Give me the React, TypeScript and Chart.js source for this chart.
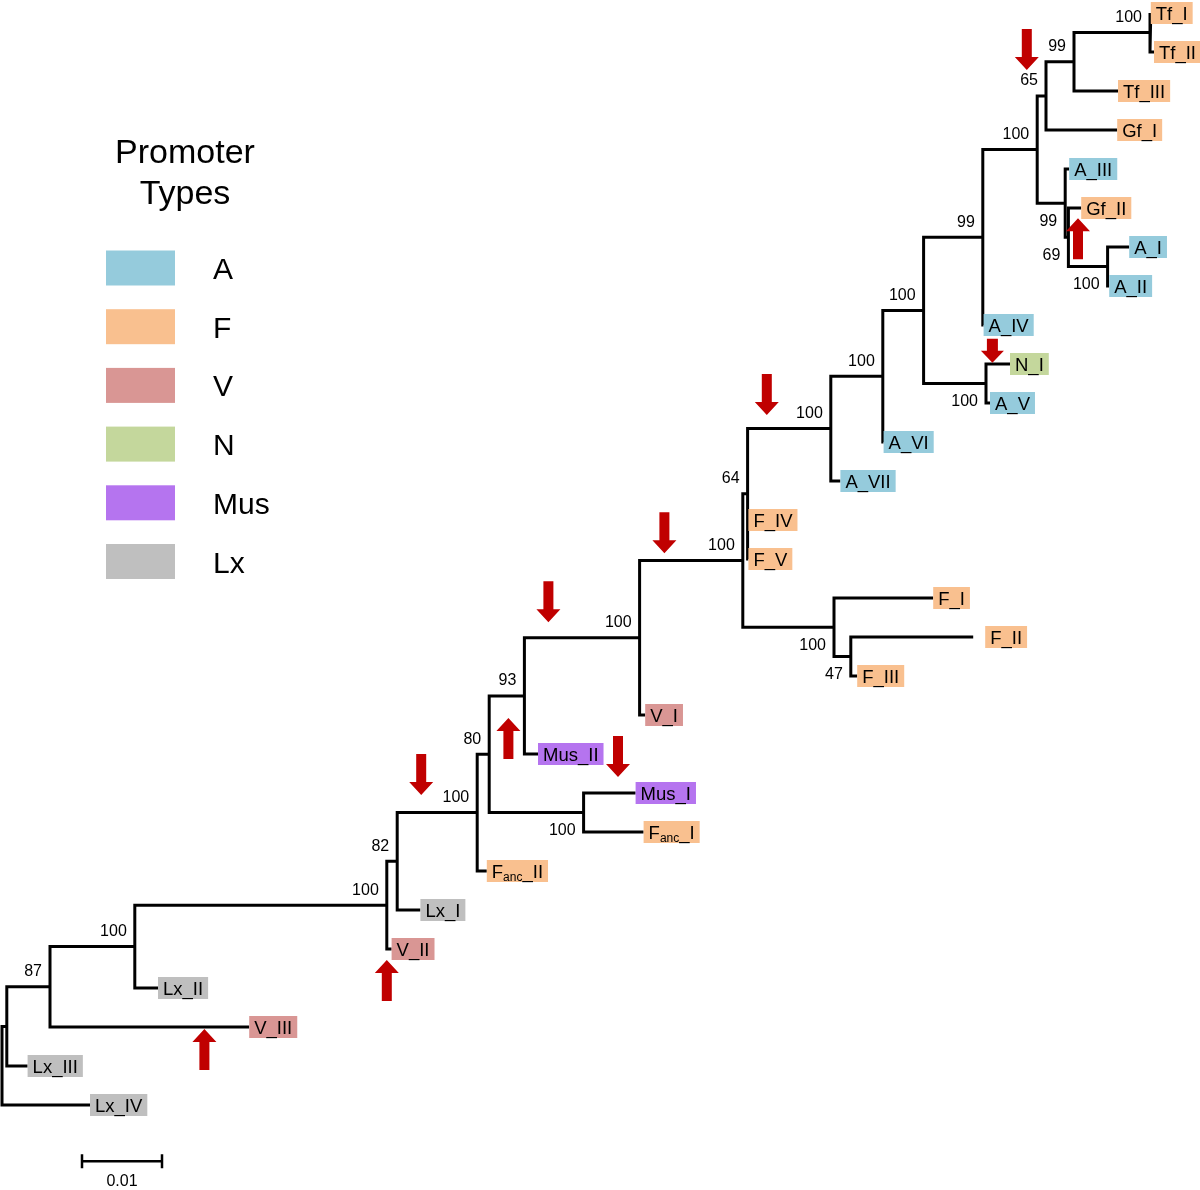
import React, { useEffect, useRef } from "react";
import { Chart, registerables } from "chart.js";

Chart.register(...registerables);

const FONT = '"Liberation Sans", Arial, Helvetica, sans-serif';

// ---- Tips (top to bottom) ----
const leafNames = [
  "Tf_I", "Tf_II", "Tf_III", "Gf_I", "A_III", "Gf_II", "A_I", "A_II", "A_IV", "N_I",
  "A_V", "A_VI", "A_VII", "F_IV", "F_V", "F_I", "F_II", "F_III", "V_I", "Mus_II",
  "Mus_I", "F{anc}_I", "F{anc}_II", "Lx_I", "V_II", "Lx_II", "V_III", "Lx_III", "Lx_IV",
];
const leafTypes = [
  "F", "F", "F", "F", "A", "F", "A", "A", "A", "N",
  "A", "A", "A", "F", "F", "F", "F", "F", "V", "Mus",
  "Mus", "F", "F", "Lx", "V", "Lx", "V", "Lx", "Lx",
];
const leafParents = [
  "n24", "n24", "n23", "n21", "n22", "n25", "n26", "n26", "n18", "n19",
  "n19", "n16", "n15", "n12", "n12", "n13", "n14", "n14", "n10", "n8",
  "n9", "n9", "n6", "n5", "n4", "n3", "n2", "n1", "root",
];
const leafLengths = [
  0.0001, 0.0005, 0.0055, 0.0089, 0.0005, 0.0016, 0.0027, 0.0002, 0.0001, 0.003,
  0.0005, 0.0001, 0.0012, 0.0001, 0.0001, 0.0124, 0.0153, 0.0008, 0.0007, 0.0017,
  0.0065, 0.0075, 0.0012, 0.0029, 0.0006, 0.0029, 0.0249, 0.0026, 0.011,
];

// ---- Internal nodes (parents listed before children) ----
const cladeNames = [
  "root", "n1", "n2", "n3", "n4", "n5", "n6", "n7", "n8", "n9",
  "n10", "n11", "n12", "n13", "n14", "n15", "n16", "n17", "n18", "n19",
  "n20", "n21", "n22", "n23", "n24", "n25", "n26",
];
const cladeParents: (string | null)[] = [
  null, "root", "n1", "n2", "n3", "n4", "n5", "n6", "n7", "n7",
  "n8", "n10", "n11", "n11", "n13", "n12", "n15", "n16", "n17", "n17",
  "n18", "n20", "n20", "n21", "n23", "n22", "n25",
];
const cladeLengths = [
  0, 0.0006, 0.0054, 0.0106, 0.0315, 0.0013, 0.01, 0.0015, 0.0044, 0.0118,
  0.0144, 0.0129, 0.0006, 0.0114, 0.0021, 0.0104, 0.0065, 0.0051, 0.0074, 0.0078,
  0.0068, 0.0011, 0.0035, 0.0035, 0.0095, 0.0004, 0.0049,
];
const cladeSupport: (number | null)[] = [
  null, null, 87, 100, 100, 82, 100, 80, 93, 100,
  100, 100, 64, 100, 47, 100, 100, 100, 99, 100,
  100, 65, 99, 99, 100, 69, 100,
];
const cladeSupportSide = [
  "", "", "above", "above", "above", "above", "above", "above", "above", "below",
  "above", "above", "above", "below", "below", "above", "above", "above", "above", "below",
  "above", "above", "below", "above", "above", "below", "below",
];

// ---- Promoter types (legend) ----
const typeNames = ["A", "F", "V", "N", "Mus", "Lx"];
const typeColors = ["#95cbdc", "#f9c08f", "#d99694", "#c4d79c", "#b574ef", "#bfbfbf"];

// ---- Red arrows: tip position (branch length, tip row) ----
const arrowX = [0.1281, 0.0956, 0.0828, 0.0683, 0.077, 0.0524, 0.1238, 0.1345, 0.0633, 0.0481, 0.0253];
const arrowY = [1.46, 10.31, 13.85, 15.62, 19.59, 20.05, 8.97, 5.26, 18.08, 24.28, 26.05];
const arrowDirs = ["down", "down", "down", "down", "down", "down", "down", "up", "up", "up", "up"];
const arrowSmall = [false, false, false, false, false, false, true, false, false, false, false];

// ---- Scale bar ----
const scaleBarLength = 0.01;
const scaleBarLabel = "0.01";
const scaleBarStart = 0.01;
const scaleBarRow = 29.44;

// style: extra gap (px) between a tip and its label box
const labelGap: Record<string, number> = { F_II: 12 };

function layoutTree() {
  const nC = cladeNames.length;
  const idx = (n: string) => cladeNames.indexOf(n);
  const cx = new Array(nC).fill(0);
  const cy = new Array(nC).fill(0);
  for (let i = 0; i < nC; i++) {
    const p = cladeParents[i];
    cx[i] = p === null ? 0 : cx[idx(p)] + cladeLengths[i];
  }
  const lx = leafNames.map((_, i) => cx[idx(leafParents[i])] + leafLengths[i]);
  const ly = leafNames.map((_, i) => i);
  const kids: { x: number; y: number }[][] = cladeNames.map(() => []);
  for (let i = nC - 1; i >= 0; i--) {
    const list: { x: number; y: number }[] = [];
    leafParents.forEach((p, j) => {
      if (p === cladeNames[i]) list.push({ x: lx[j], y: ly[j] });
    });
    cladeParents.forEach((p, j) => {
      if (p === cladeNames[i]) list.push({ x: cx[j], y: cy[j] });
    });
    list.sort((a, b) => a.y - b.y);
    kids[i] = list;
    cy[i] = (list[0].y + list[list.length - 1].y) / 2;
  }
  return { cx, cy, lx, ly, kids };
}

function parseRich(t: string) {
  const segs: { t: string; sub: boolean }[] = [];
  const re = /\{([^}]*)\}/g;
  let last = 0;
  let m: RegExpExecArray | null;
  while ((m = re.exec(t))) {
    if (m.index > last) segs.push({ t: t.slice(last, m.index), sub: false });
    segs.push({ t: m[1], sub: true });
    last = m.index + m[0].length;
  }
  if (last < t.length) segs.push({ t: t.slice(last), sub: false });
  return segs;
}

export default function App() {
  const ref = useRef<HTMLCanvasElement>(null);

  useEffect(() => {
    const canvas = ref.current;
    if (!canvas) return;
    const tree = layoutTree();

    const datasets: any[] = [];
    const mk = (pts: { x: number; y: number }[]) => ({
      data: pts,
      showLine: true,
      borderColor: "#000",
      borderWidth: 3,
      pointRadius: 0,
      pointHoverRadius: 0,
      fill: false,
      tension: 0,
      borderJoinStyle: "miter",
      borderCapStyle: "butt",
    });
    tree.kids.forEach((list, i) => {
      const nx = tree.cx[i];
      const first = list[0];
      const lastK = list[list.length - 1];
      datasets.push(
        mk([
          { x: first.x, y: first.y },
          { x: nx, y: first.y },
          { x: nx, y: lastK.y },
          { x: lastK.x, y: lastK.y },
        ])
      );
      for (let k = 1; k < list.length - 1; k++) {
        datasets.push(mk([{ x: nx, y: list[k].y }, { x: list[k].x, y: list[k].y }]));
      }
    });

    const annot = {
      id: "annot",
      afterDatasetsDraw(chart: any) {
        const ctx = chart.ctx as CanvasRenderingContext2D;
        const xs = chart.scales.x;
        const ys = chart.scales.y;
        ctx.save();

        // tip labels
        leafNames.forEach((name, i) => {
          const px = xs.getPixelForValue(tree.lx[i]) + (labelGap[name] || 0);
          const py = ys.getPixelForValue(tree.ly[i]);
          const segs = parseRich(name);
          let w = 0;
          segs.forEach((s) => {
            ctx.font = s.sub ? `12px ${FONT}` : `18.5px ${FONT}`;
            w += ctx.measureText(s.t).width;
          });
          const color = typeColors[typeNames.indexOf(leafTypes[i])];
          ctx.fillStyle = color;
          ctx.fillRect(px, py - 11, w + 10, 22);
          let tx = px + 5;
          ctx.fillStyle = "#000";
          ctx.textAlign = "left";
          ctx.textBaseline = "alphabetic";
          segs.forEach((s) => {
            ctx.font = s.sub ? `12px ${FONT}` : `18.5px ${FONT}`;
            ctx.fillText(s.t, tx, s.sub ? py + 10 : py + 7);
            tx += ctx.measureText(s.t).width;
          });
        });

        // support values
        ctx.font = `16px ${FONT}`;
        ctx.fillStyle = "#000";
        ctx.textAlign = "right";
        ctx.textBaseline = "middle";
        cladeSupport.forEach((s, i) => {
          if (s === null) return;
          const px = xs.getPixelForValue(tree.cx[i]);
          const py = ys.getPixelForValue(tree.cy[i]);
          const dy = cladeSupportSide[i] === "above" ? -15 : 18;
          ctx.fillText(String(s), px - 8, py + dy);
        });

        // arrows
        ctx.fillStyle = "#c00000";
        arrowX.forEach((ax, i) => {
          const px = xs.getPixelForValue(ax);
          const py = ys.getPixelForValue(arrowY[i]);
          const small = arrowSmall[i];
          const len = small ? 24 : 41;
          const head = small ? 12 : 13;
          const hw = small ? 23 : 24;
          const sw = small ? 11 : 10;
          const s = arrowDirs[i] === "down" ? -1 : 1;
          ctx.beginPath();
          ctx.moveTo(px, py);
          ctx.lineTo(px + hw / 2, py + s * head);
          ctx.lineTo(px + sw / 2, py + s * head);
          ctx.lineTo(px + sw / 2, py + s * len);
          ctx.lineTo(px - sw / 2, py + s * len);
          ctx.lineTo(px - sw / 2, py + s * head);
          ctx.lineTo(px - hw / 2, py + s * head);
          ctx.closePath();
          ctx.fill();
        });

        // scale bar
        const sx0 = xs.getPixelForValue(scaleBarStart);
        const sx1 = xs.getPixelForValue(scaleBarStart + scaleBarLength);
        const sy = ys.getPixelForValue(scaleBarRow);
        ctx.strokeStyle = "#000";
        ctx.lineWidth = 2.5;
        ctx.beginPath();
        ctx.moveTo(sx0, sy);
        ctx.lineTo(sx1, sy);
        ctx.moveTo(sx0, sy - 7);
        ctx.lineTo(sx0, sy + 7);
        ctx.moveTo(sx1, sy - 7);
        ctx.lineTo(sx1, sy + 7);
        ctx.stroke();
        ctx.fillStyle = "#000";
        ctx.font = `16px ${FONT}`;
        ctx.textAlign = "center";
        ctx.textBaseline = "alphabetic";
        ctx.fillText(scaleBarLabel, (sx0 + sx1) / 2, sy + 25);

        // legend
        ctx.font = `34px ${FONT}`;
        ctx.textAlign = "center";
        ctx.fillText("Promoter", 185, 163);
        ctx.fillText("Types", 185, 204);
        typeNames.forEach((t, i) => {
          const cy = 268 + i * 58.7;
          ctx.fillStyle = typeColors[i];
          ctx.fillRect(106, cy - 17.5, 69, 35);
          ctx.fillStyle = "#000";
          ctx.font = `30px ${FONT}`;
          ctx.textAlign = "left";
          ctx.fillText(t, 213, cy + 11);
        });

        ctx.restore();
      },
    };

    const chart = new Chart(canvas, {
      type: "scatter",
      data: { datasets },
      options: {
        animation: false,
        responsive: false,
        devicePixelRatio: 1,
        events: [],
        layout: { padding: 0 },
        scales: {
          x: { type: "linear", min: -2 / 8000, max: 1198 / 8000, display: false },
          y: { type: "linear", min: -13 / 39, max: 1177 / 39, reverse: true, display: false },
        },
        plugins: { legend: { display: false }, tooltip: { enabled: false } },
      } as any,
      plugins: [annot],
    });
    return () => chart.destroy();
  }, []);

  return (
    <div style={{ position: "absolute", left: 0, top: 0, width: 1200, height: 1190, background: "#fff" }}>
      <canvas ref={ref} width={1200} height={1190} style={{ display: "block" }} />
    </div>
  );
}
